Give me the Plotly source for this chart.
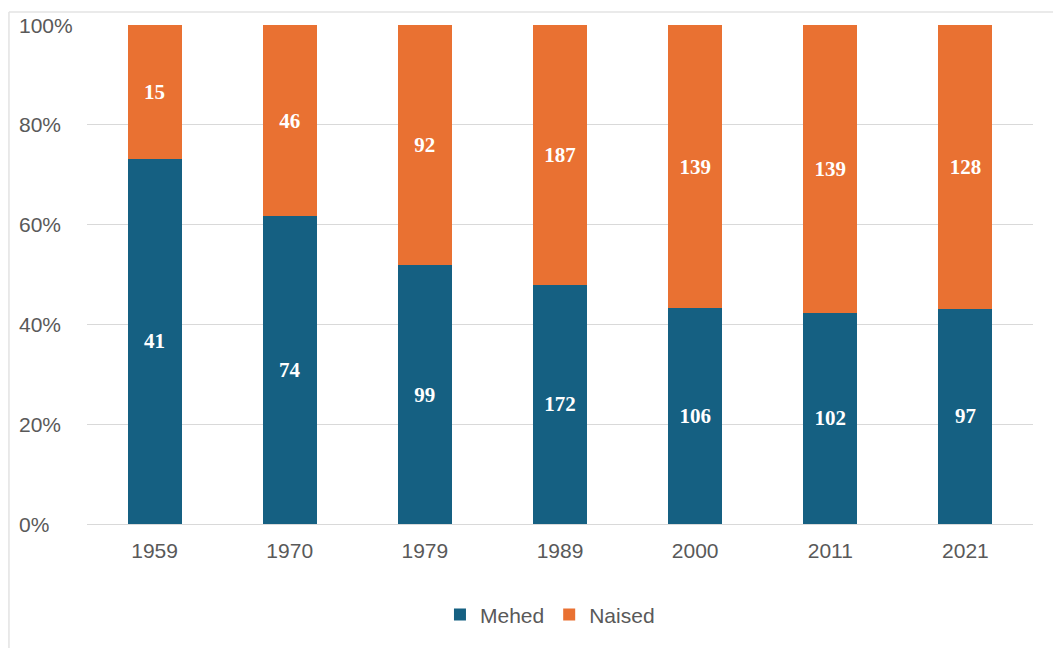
import plotly.graph_objects as go

years = ["1959", "1970", "1979", "1989", "2000", "2011", "2021"]
mehed = [41, 74, 99, 172, 106, 102, 97]
naised = [15, 46, 92, 187, 139, 139, 128]
y_ticks = [0, 20, 40, 60, 80, 100]
y_tick_labels = ["0%", "20%", "40%", "60%", "80%", "100%"]

BLUE = "#156082"
ORANGE = "#E97132"
GRID = "#D9D9D9"
TICK = "#595959"

label_font = dict(family="Liberation Serif, Times New Roman, serif", size=21, color="white", weight="bold")

fig = go.Figure()
fig.add_trace(go.Bar(
    x=years, y=mehed, name="Mehed", marker=dict(color=BLUE, line=dict(width=0)),
    text=mehed, textposition="inside", insidetextanchor="middle", textangle=0,
    textfont=label_font, hoverinfo="x+y+name",
))
fig.add_trace(go.Bar(
    x=years, y=naised, name="Naised", marker=dict(color=ORANGE, line=dict(width=0)),
    text=naised, textposition="inside", insidetextanchor="middle", textangle=0,
    textfont=label_font, hoverinfo="x+y+name",
))

annotations = [
    dict(x=-0.074, xref="paper", y=v, yref="y", text=t, showarrow=False,
         xanchor="left", yanchor="middle",
         font=dict(family="Liberation Sans, Arial, sans-serif", size=21, color=TICK))
    for v, t in zip(y_ticks, y_tick_labels)
]

fig.update_layout(
    width=1053, height=640,
    margin=dict(l=79, r=28, t=17, b=124),
    barmode="stack", barnorm="percent", bargap=0.6,
    plot_bgcolor="white", paper_bgcolor="white",
    font=dict(family="Liberation Sans, Arial, sans-serif", size=21, color=TICK),
    xaxis=dict(
        showgrid=False, showline=True, linecolor=GRID, linewidth=1,
        ticks="outside", ticklen=8, tickcolor="rgba(0,0,0,0)",
        tickfont=dict(size=21, color=TICK),
    ),
    yaxis=dict(
        range=[0, 100], tickvals=y_ticks, showticklabels=False,
        showgrid=True, gridcolor=GRID, gridwidth=1, zeroline=False,
    ),
    legend=dict(
        orientation="h", x=0.4894, xanchor="center", y=-0.182, yanchor="middle",
        font=dict(size=21, color=TICK), traceorder="normal",
    ),
    annotations=annotations,
    shapes=[
        dict(type="line", xref="paper", yref="paper", x0=-0.0825, x1=1.1, y0=1.026, y1=1.026,
             line=dict(color="#E3E3E3", width=1.5)),
        dict(type="line", xref="paper", yref="paper", x0=-0.0825, x1=-0.0825, y0=1.026, y1=-0.3,
             line=dict(color="#E3E3E3", width=1.5)),
    ],
    showlegend=True,
)

fig.write_html("out.html")
